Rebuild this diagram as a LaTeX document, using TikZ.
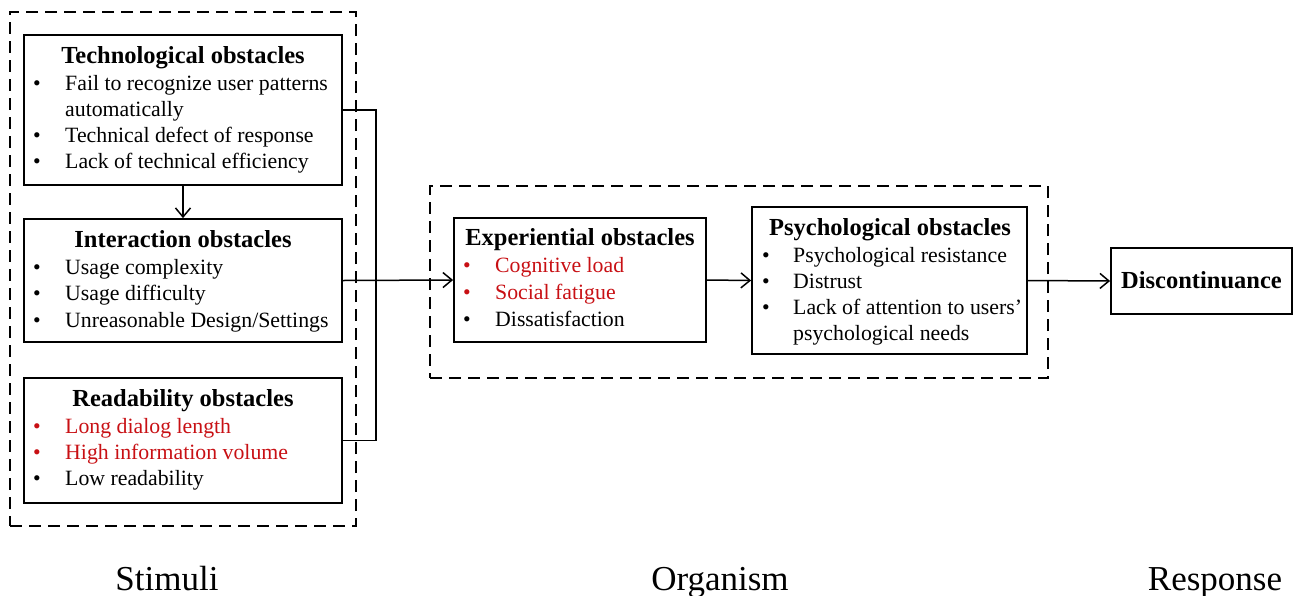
\documentclass[tikz,border=0pt]{standalone}
\usepackage{fontspec}
\setmainfont{Liberation Serif}
\usetikzlibrary{arrows.meta}
\definecolor{obsred}{RGB}{200,16,20}
\newcommand\obsitem[6]{%
  \node[dot,text=#5] (#1b) at (#2,#4) {\textbullet};
  \node[itm,text=#5] (#1) at (#3,#4) {#6};}
\begin{document}
\begin{tikzpicture}[x=1pt,y=-1pt,
  box/.style={draw, line width=1.8pt, inner sep=0pt},
  grp/.style={draw, dash pattern=on 12pt off 7pt, line width=1.8pt},
  ttl/.style={anchor=base, font=\bfseries\fontsize{24.5}{28}\selectfont, inner sep=0pt},
  itm/.style={anchor=base west, font=\fontsize{21.8}{26}\selectfont, inner sep=0pt},
  dot/.style={anchor=base, font=\fontsize{21.8}{26}\selectfont, inner sep=0pt},
  arr/.style={-{Straight Barb[length=9pt,width=15pt]}, line width=1.5pt},
  con/.style={line width=1.5pt},
  lbl/.style={anchor=base, font=\fontsize{35}{40}\selectfont, inner sep=0pt}]
\useasboundingbox (0,0) rectangle (1293,595);

% group boxes
\node[grp, minimum width=346, minimum height=514] (stim) at (183,269) {};
\node[grp, minimum width=618, minimum height=192] (org) at (739,282) {};

% Stimuli boxes
\node[box, minimum width=318, minimum height=150] (tech) at (183,110) {};
\node[box, minimum width=318, minimum height=123] (inter) at (183,280.5) {};
\node[box, minimum width=318, minimum height=125] (read) at (183,440.5) {};

\node[ttl] (techT) at (183,63) {Technological obstacles};
\obsitem{t1}{37}{65}{90}{black}{Fail to recognize user patterns}
\node[itm] (t1b2) at (65,116) {automatically};
\obsitem{t2}{37}{65}{142}{black}{Technical defect of response}
\obsitem{t3}{37}{65}{168}{black}{Lack of technical efficiency}

\node[ttl] (interT) at (183,247) {Interaction obstacles};
\obsitem{i1}{37}{65}{274}{black}{Usage complexity}
\obsitem{i2}{37}{65}{300}{black}{Usage difficulty}
\obsitem{i3}{37}{65}{327}{black}{Unreasonable Design/Settings}

\node[ttl] (readT) at (183,406) {Readability obstacles};
\obsitem{r1}{37}{65}{433}{obsred}{Long dialog length}
\obsitem{r2}{37}{65}{459}{obsred}{High information volume}
\obsitem{r3}{37}{65}{485}{black}{Low readability}

% Organism boxes
\node[box, minimum width=252, minimum height=124] (exp) at (580,280) {};
\node[ttl] (expT) at (580,245) {Experiential obstacles};
\obsitem{e1}{467}{495}{272}{obsred}{Cognitive load}
\obsitem{e2}{467}{495}{299}{obsred}{Social fatigue}
\obsitem{e3}{467}{495}{326}{black}{Dissatisfaction}

\node[box, minimum width=275, minimum height=147] (psy) at (889.5,280.5) {};
\node[ttl] (psyT) at (890,235) {Psychological obstacles};
\obsitem{p1}{766}{793}{262}{black}{Psychological resistance}
\obsitem{p2}{766}{793}{288}{black}{Distrust}
\obsitem{p3}{766}{793}{314}{black}{Lack of attention to users’}
\node[itm] (p3b2) at (793,340) {psychological needs};

% Response
\node[box, minimum width=181, minimum height=66] (disc) at (1201.5,281) {};
\node[ttl] (discT) at (1201.5,288) {Discontinuance};

% connectors
\coordinate (bus) at (376,280.5);
\draw[arr] (tech.south) -- (inter.north);
\draw[con] (tech.east) -| (bus) |- (read.east);
\draw[arr] (inter.east) -- (exp.west);
\draw[arr] (exp.east) -- (psy.west);
\draw[arr] (psy.east) -- (disc.west);

% labels
\node[lbl] (lstim) at (167,590) {Stimuli};
\node[lbl] (lorg) at (720,590) {Organism};
\node[lbl] (lresp) at (1215,590) {Response};
\end{tikzpicture}
\end{document}
